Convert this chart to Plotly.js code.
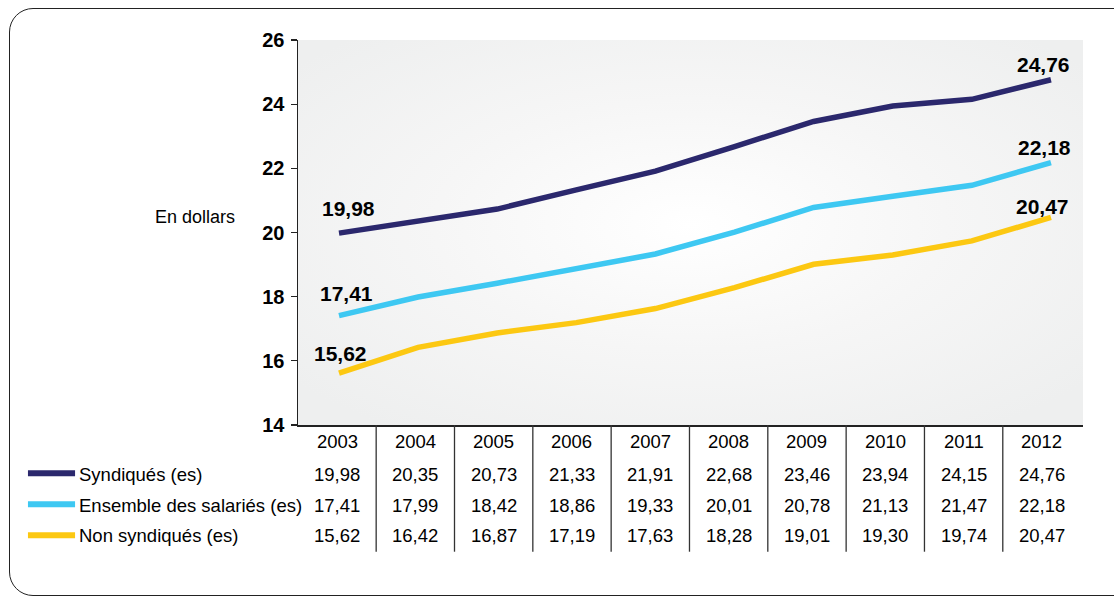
<!DOCTYPE html>
<html>
<head>
<meta charset="utf-8">
<script src="https://cdn.plot.ly/plotly-3.0.1.min.js"></script>
<style>
  html, body { margin: 0; padding: 0; background: #fff; width: 1114px; height: 599px; overflow: hidden; }
  #frame { position: absolute; left: 9px; top: 8px; width: 1130px; height: 588px; border: 1.5px solid #222; border-radius: 24px; box-sizing: border-box; }
  #chart { position: absolute; left: 0; top: 0; width: 1114px; height: 599px; }
</style>
</head>
<body>
<div id="frame"></div>
<div id="chart"></div>
<script>
const years = ['2003','2004','2005','2006','2007','2008','2009','2010','2011','2012'];
const seriesNames = ['Syndiqués (es)', 'Ensemble des salariés (es)', 'Non syndiqués (es)'];
const syndiques = [19.98, 20.35, 20.73, 21.33, 21.91, 22.68, 23.46, 23.94, 24.15, 24.76];
const ensemble = [17.41, 17.99, 18.42, 18.86, 19.33, 20.01, 20.78, 21.13, 21.47, 22.18];
const nonSyndiques = [15.62, 16.42, 16.87, 17.19, 17.63, 18.28, 19.01, 19.30, 19.74, 20.47];
const colors = ['#2b286d', '#3ec8f2', '#fcc812'];
const yTicks = [14, 16, 18, 20, 22, 24, 26];

const allSeries = [syndiques, ensemble, nonSyndiques];
const idx = years.map((_, j) => j);
const fmt = v => v.toFixed(2).replace('.', ',');
const FONT = 'Liberation Sans, Arial, sans-serif';

const traces = allSeries.map((s, i) => ({
  x: idx, y: s, xaxis: 'x2', yaxis: 'y', type: 'scatter', mode: 'lines',
  name: seriesNames[i], line: { color: colors[i], width: 5.5 },
  hoverinfo: 'skip', showlegend: false
}));

const annotations = [];
const shapes = [];
const firstShift = [[10, 25], [8, 22.5], [2, 20]];
const lastShift = [[-7, 15.6], [-6, 15.4], [-8, 11.3]];
allSeries.forEach((s, i) => {
  annotations.push({ x: 0, y: s[0], xref: 'x2', yref: 'y', text: fmt(s[0]), showarrow: false,
    xanchor: 'center', yanchor: 'middle', xshift: firstShift[i][0], yshift: firstShift[i][1],
    font: { family: FONT, size: 21, color: '#000', weight: 'bold' } });
  const n = s.length - 1;
  annotations.push({ x: n, y: s[n], xref: 'x2', yref: 'y', text: fmt(s[n]), showarrow: false,
    xanchor: 'center', yanchor: 'middle', xshift: lastShift[i][0], yshift: lastShift[i][1],
    font: { family: FONT, size: 21, color: '#000', weight: 'bold' } });
});
const headerY = -0.0416;
const rowY = [-0.1273, -0.2078, -0.2883];
idx.forEach(j => {
  annotations.push({ x: j, y: headerY, xref: 'x', yref: 'paper', text: years[j], showarrow: false,
    xanchor: 'center', yanchor: 'middle', font: { family: FONT, size: 18.5, color: '#000' } });
  allSeries.forEach((s, i) => {
    annotations.push({ x: j, y: rowY[i], xref: 'x', yref: 'paper', text: fmt(s[j]), showarrow: false,
      xanchor: 'center', yanchor: 'middle', font: { family: FONT, size: 18.5, color: '#000' } });
  });
});
seriesNames.forEach((nm, i) => {
  annotations.push({ x: -0.281, y: rowY[i], xref: 'paper', yref: 'paper', text: nm, showarrow: false,
    xanchor: 'left', yanchor: 'middle', font: { family: FONT, size: 18.5, color: '#000' } });
  shapes.push({ type: 'line', xref: 'paper', yref: 'paper', x0: -0.344, x1: -0.284, y0: rowY[i] + 0.002, y1: rowY[i] + 0.002,
    line: { color: colors[i], width: 6 } });
});
for (let j = 0; j < years.length - 1; j++) {
  shapes.push({ type: 'line', xref: 'x', yref: 'paper', x0: j + 0.5, x1: j + 0.5, y0: 0, y1: -0.3291,
    line: { color: '#333', width: 1.3 } });
}
annotations.push({ x: -0.1312, y: 0.5403, xref: 'paper', yref: 'paper', text: 'En dollars', showarrow: false,
  xanchor: 'center', yanchor: 'middle', font: { family: FONT, size: 18, color: '#000' } });

const svg = `<svg xmlns="http://www.w3.org/2000/svg" width="100" height="100" preserveAspectRatio="none"><defs><radialGradient id="g" cx="0.5" cy="0.48" r="0.65"><stop offset="0" stop-color="#ffffff"/><stop offset="0.5" stop-color="#f6f6f6"/><stop offset="1" stop-color="#eeefef"/></radialGradient></defs><rect width="100" height="100" fill="url(#g)"/></svg>`;

const layout = {
  width: 1114, height: 599,
  margin: { l: 298, r: 31, t: 40, b: 174 },
  paper_bgcolor: 'rgba(0,0,0,0)',
  plot_bgcolor: '#f0f0f0',
  font: { family: FONT, color: '#000' },
  xaxis: { type: 'linear', range: [-0.498, 9.524], showticklabels: false, ticks: '',
    showgrid: false, zeroline: false, showline: true, linecolor: '#222', linewidth: 1.5, fixedrange: true },
  xaxis2: { type: 'linear', range: [-0.518, 9.405], overlaying: 'x', visible: false, fixedrange: true },
  yaxis: { range: [14, 26], tickvals: yTicks, showgrid: false, zeroline: false, showline: true,
    linecolor: '#222', linewidth: 1.5, ticks: 'outside', ticklen: 6, tickcolor: '#222', tickwidth: 1.3,
    tickfont: { family: FONT, size: 20, color: '#000', weight: 'bold' }, ticklabelstandoff: 2, fixedrange: true },
  images: [{ source: 'data:image/svg+xml;charset=utf-8,' + encodeURIComponent(svg), xref: 'paper', yref: 'paper',
    x: 0, y: 1, sizex: 1, sizey: 1, sizing: 'stretch', layer: 'below', xanchor: 'left', yanchor: 'top' }],
  annotations: annotations,
  shapes: shapes,
  showlegend: false
};

Plotly.newPlot('chart', traces, layout, { displayModeBar: false, staticPlot: true });
</script>
</body>
</html>
